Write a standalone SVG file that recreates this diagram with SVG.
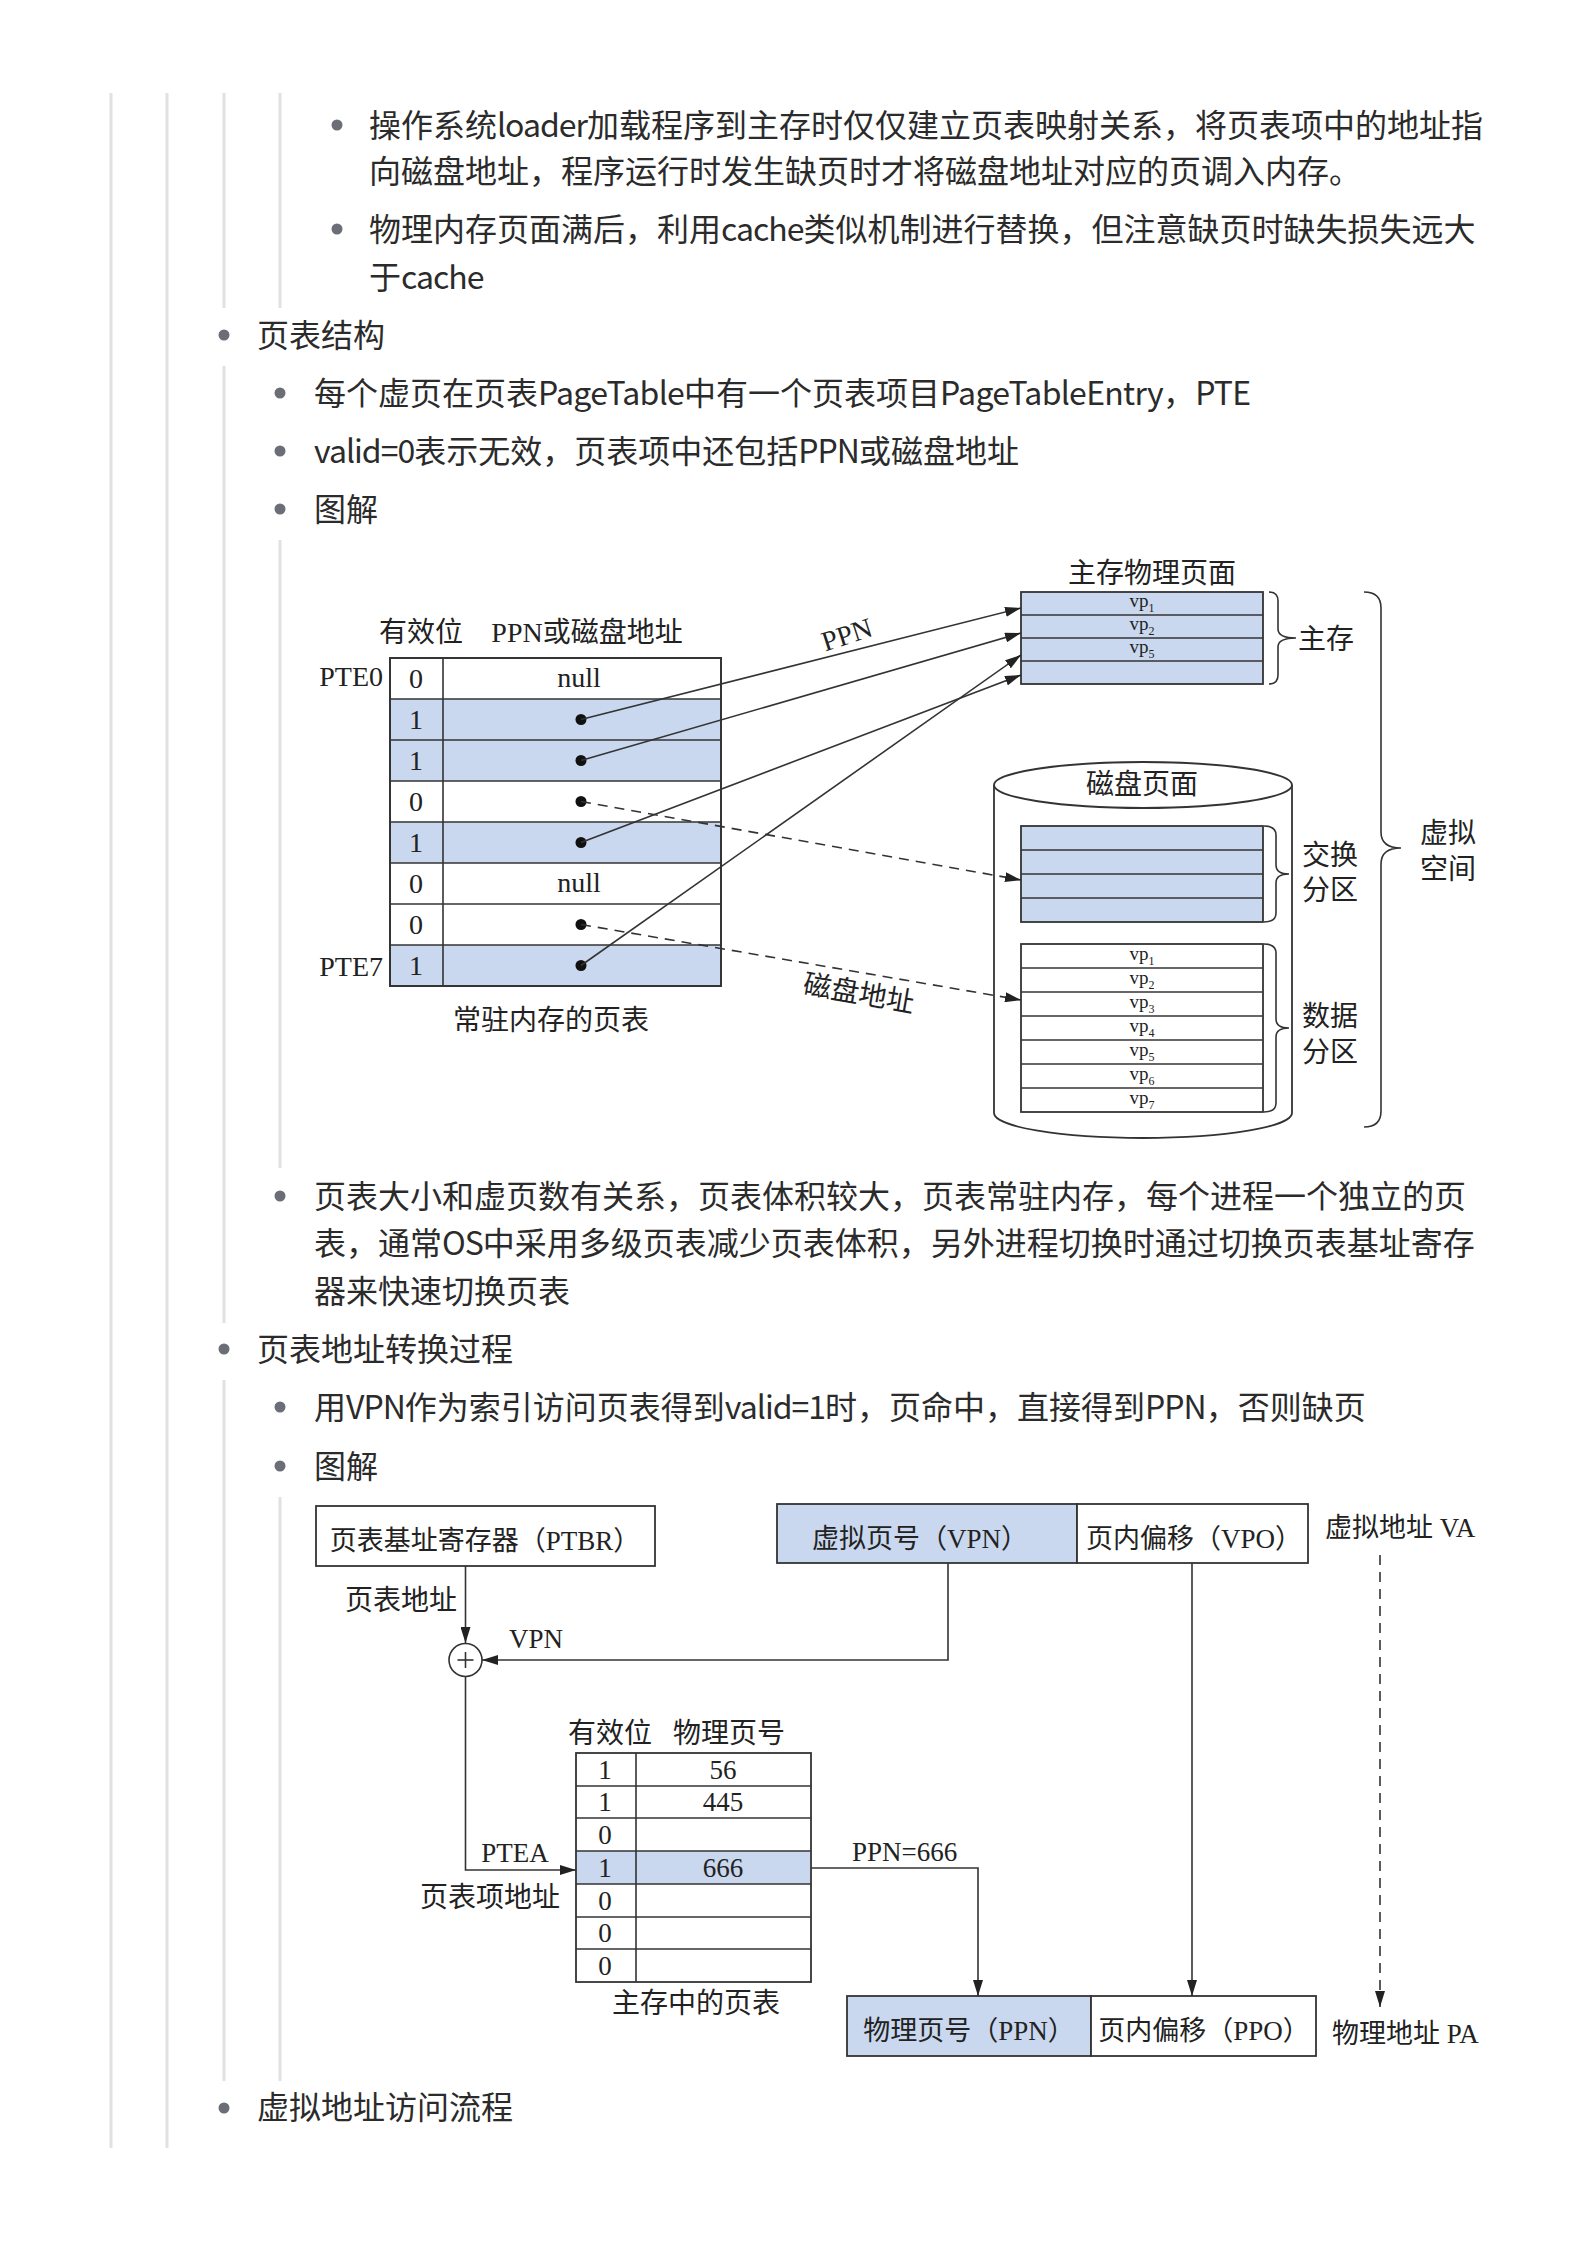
<svg xmlns="http://www.w3.org/2000/svg" width="1586" height="2245" viewBox="0 0 1586 2245">
<style>
.body{font-family:"Noto Sans CJK SC","Noto Sans",sans-serif;font-size:32px;fill:#2b2b2b}
.lt{letter-spacing:-1px}
.lt2{letter-spacing:-0.7px}
.bul{fill:#6b6e76}
.guide{stroke:#e1e1e4;stroke-width:3;fill:none}
.d{font-family:"Liberation Serif","Noto Sans CJK SC",serif;font-size:28px;fill:#222}
.dm{font-family:"Liberation Serif","Noto Sans CJK SC",serif;font-size:27px;fill:#222}
.vp{font-family:"Liberation Serif",serif;font-size:19px;fill:#222}
.box{stroke:#333;stroke-width:1.8;fill:#fff}
.blue{fill:#c9d8ee}
.ln{stroke:#333;stroke-width:1.6;fill:none}
.dash{stroke:#333;stroke-width:1.6;fill:none;stroke-dasharray:10 7}
</style>
<defs>
<marker id="ah" markerWidth="16" markerHeight="10" refX="16" refY="5" orient="auto" markerUnits="userSpaceOnUse">
<path d="M0,0 L16,5 L0,10 z" fill="#222"/>
</marker>
</defs>
<rect width="1586" height="2245" fill="#fff"/>

<g id="guides">
<line class="guide" x1="111" y1="93" x2="111" y2="2148"/>
<line class="guide" x1="167" y1="93" x2="167" y2="2148"/>
<line class="guide" x1="224" y1="93" x2="224" y2="308"/>
<line class="guide" x1="280" y1="93" x2="280" y2="308"/>
<line class="guide" x1="224" y1="366" x2="224" y2="1323"/>
<line class="guide" x1="280" y1="540" x2="280" y2="1168"/>
<line class="guide" x1="224" y1="1380" x2="224" y2="2081"/>
<line class="guide" x1="280" y1="1497" x2="280" y2="2081"/>
</g>

<g id="text-body">
<circle class="bul" cx="337" cy="125" r="5.5"/>
<text class="body" x="369" y="137">操作系统<tspan class="lt">loader</tspan>加载程序到主存时仅仅建立页表映射关系，将页表项中的地址指</text>
<text class="body" x="369" y="183">向磁盘地址，程序运行时发生缺页时才将磁盘地址对应的页调入内存。</text>
<circle class="bul" cx="337" cy="229" r="5.5"/>
<text class="body" x="369" y="241">物理内存页面满后，利用<tspan class="lt">cache</tspan>类似机制进行替换，但注意缺页时缺失损失远大</text>
<text class="body" x="369" y="289">于<tspan class="lt">cache</tspan></text>
<circle class="bul" cx="224" cy="335" r="5.5"/>
<text class="body" x="257" y="347">页表结构</text>
<circle class="bul" cx="280" cy="393" r="5.5"/>
<text class="body" x="314" y="405">每个虚页在页表<tspan class="lt2">PageTable</tspan>中有一个页表项目<tspan class="lt2">PageTableEntry</tspan>，<tspan class="lt2">PTE</tspan></text>
<circle class="bul" cx="280" cy="451" r="5.5"/>
<text class="body" x="314" y="463"><tspan class="lt">valid=0</tspan>表示无效，页表项中还包括<tspan class="lt">PPN</tspan>或磁盘地址</text>
<circle class="bul" cx="280" cy="509" r="5.5"/>
<text class="body" x="314" y="521">图解</text>
<circle class="bul" cx="280" cy="1196" r="5.5"/>
<text class="body" x="314" y="1208">页表大小和虚页数有关系，页表体积较大，页表常驻内存，每个进程一个独立的页</text>
<text class="body" x="314" y="1255">表，通常<tspan class="lt">OS</tspan>中采用多级页表减少页表体积，另外进程切换时通过切换页表基址寄存</text>
<text class="body" x="314" y="1303">器来快速切换页表</text>
<circle class="bul" cx="224" cy="1349" r="5.5"/>
<text class="body" x="257" y="1361">页表地址转换过程</text>
<circle class="bul" cx="280" cy="1407" r="5.5"/>
<text class="body" x="314" y="1419">用<tspan class="lt">VPN</tspan>作为索引访问页表得到<tspan class="lt">valid=1</tspan>时，页命中，直接得到<tspan class="lt">PPN</tspan>，否则缺页</text>
<circle class="bul" cx="280" cy="1466" r="5.5"/>
<text class="body" x="314" y="1478">图解</text>
<circle class="bul" cx="224" cy="2108" r="5.5"/>
<text class="body" x="257" y="2119">虚拟地址访问流程</text>
</g>

<!-- Diagram 1 -->
<g id="pagetable1">
<rect class="box" x="390" y="658" width="331" height="328"/>
<rect class="blue" x="391" y="699" width="329" height="41"/>
<rect class="blue" x="391" y="740" width="329" height="41"/>
<rect class="blue" x="391" y="822" width="329" height="41"/>
<rect class="blue" x="391" y="945" width="329" height="40"/>
<g class="ln">
<line x1="390" y1="699" x2="721" y2="699"/>
<line x1="390" y1="740" x2="721" y2="740"/>
<line x1="390" y1="781" x2="721" y2="781"/>
<line x1="390" y1="822" x2="721" y2="822"/>
<line x1="390" y1="863" x2="721" y2="863"/>
<line x1="390" y1="904" x2="721" y2="904"/>
<line x1="390" y1="945" x2="721" y2="945"/>
<line x1="443" y1="658" x2="443" y2="986"/>
</g>
<rect x="390" y="658" width="331" height="328" fill="none" stroke="#333" stroke-width="1.8"/>
<g class="d" text-anchor="middle">
<text x="416" y="688">0</text>
<text x="416" y="729">1</text>
<text x="416" y="770">1</text>
<text x="416" y="811">0</text>
<text x="416" y="852">1</text>
<text x="416" y="893">0</text>
<text x="416" y="934">0</text>
<text x="416" y="975">1</text>
<text x="579" y="687">null</text>
<text x="579" y="892">null</text>
<text x="421" y="642">有效位</text>
<text x="587" y="642">PPN或磁盘地址</text>
<text x="551" y="1030">常驻内存的页表</text>
</g>
<g class="d" text-anchor="end">
<text x="383" y="686">PTE0</text>
<text x="383" y="976">PTE7</text>
</g>
<g fill="#111">
<circle cx="581" cy="719.5" r="5.5"/>
<circle cx="581" cy="760.5" r="5.5"/>
<circle cx="581" cy="801.5" r="5.5"/>
<circle cx="581" cy="842.5" r="5.5"/>
<circle cx="581" cy="924.5" r="5.5"/>
<circle cx="581" cy="965.5" r="5.5"/>
</g>
</g>

<g id="mainmem">
<text class="d" x="1152" y="583" text-anchor="middle">主存物理页面</text>
<rect class="box" x="1021" y="592" width="242" height="92" style="fill:#c9d8ee"/>
<g class="ln">
<line x1="1021" y1="615" x2="1263" y2="615"/>
<line x1="1021" y1="638" x2="1263" y2="638"/>
<line x1="1021" y1="661" x2="1263" y2="661"/>
</g>
<g class="vp" text-anchor="middle">
<text x="1142" y="607">vp<tspan dy="5" font-size="12">1</tspan></text>
<text x="1142" y="630">vp<tspan dy="5" font-size="12">2</tspan></text>
<text x="1142" y="653">vp<tspan dy="5" font-size="12">5</tspan></text>
</g>
<path class="ln" d="M1269,592 Q1278,592 1278,601 L1278,629 Q1278,638 1296,638 Q1278,638 1278,647 L1278,675 Q1278,684 1269,684"/>
<text class="d" x="1298" y="649">主存</text>
</g>

<g id="disk">
<path class="box" d="M994,785 L994,1113 A149,25 0 0 0 1292,1113 L1292,785"/>
<ellipse class="box" cx="1143" cy="785" rx="149" ry="23"/>
<text class="d" x="1142" y="794" text-anchor="middle">磁盘页面</text>
<rect class="box" x="1021" y="826" width="242" height="96" style="fill:#c9d8ee"/>
<g class="ln">
<line x1="1021" y1="850" x2="1263" y2="850"/>
<line x1="1021" y1="874" x2="1263" y2="874"/>
<line x1="1021" y1="898" x2="1263" y2="898"/>
</g>
<rect class="box" x="1021" y="944" width="242" height="168"/>
<g class="ln">
<line x1="1021" y1="968" x2="1263" y2="968"/>
<line x1="1021" y1="992" x2="1263" y2="992"/>
<line x1="1021" y1="1016" x2="1263" y2="1016"/>
<line x1="1021" y1="1040" x2="1263" y2="1040"/>
<line x1="1021" y1="1064" x2="1263" y2="1064"/>
<line x1="1021" y1="1088" x2="1263" y2="1088"/>
</g>
<g class="vp" text-anchor="middle">
<text x="1142" y="960">vp<tspan dy="5" font-size="12">1</tspan></text>
<text x="1142" y="984">vp<tspan dy="5" font-size="12">2</tspan></text>
<text x="1142" y="1008">vp<tspan dy="5" font-size="12">3</tspan></text>
<text x="1142" y="1032">vp<tspan dy="5" font-size="12">4</tspan></text>
<text x="1142" y="1056">vp<tspan dy="5" font-size="12">5</tspan></text>
<text x="1142" y="1080">vp<tspan dy="5" font-size="12">6</tspan></text>
<text x="1142" y="1104">vp<tspan dy="5" font-size="12">7</tspan></text>
</g>
<path class="ln" d="M1264,826 Q1276,826 1276,835 L1276,865 Q1276,874 1289,874 Q1276,874 1276,883 L1276,913 Q1276,922 1264,922"/>
<text class="d" x="1302" y="865">交换</text>
<text class="d" x="1302" y="900">分区</text>
<path class="ln" d="M1264,944 Q1276,944 1276,953 L1276,1019 Q1276,1028 1289,1028 Q1276,1028 1276,1037 L1276,1103 Q1276,1112 1264,1112"/>
<text class="d" x="1302" y="1026">数据</text>
<text class="d" x="1302" y="1062">分区</text>
</g>

<g id="vspace">
<path class="ln" d="M1364,592 Q1381,592 1381,608 L1381,832 Q1381,848 1401,848 Q1381,848 1381,864 L1381,1111 Q1381,1127 1364,1127"/>
<text class="d" x="1420" y="843">虚拟</text>
<text class="d" x="1420" y="879">空间</text>
</g>

<g id="connectors1">
<line class="ln" x1="581" y1="719.5" x2="1021" y2="608" marker-end="url(#ah)"/>
<line class="ln" x1="581" y1="760.5" x2="1021" y2="633" marker-end="url(#ah)"/>
<line class="ln" x1="581" y1="842.5" x2="1021" y2="675" marker-end="url(#ah)"/>
<line class="ln" x1="581" y1="965.5" x2="1021" y2="655" marker-end="url(#ah)"/>
<line class="dash" x1="581" y1="801.5" x2="1021" y2="880" marker-end="url(#ah)"/>
<line class="dash" x1="581" y1="924.5" x2="1021" y2="1000" marker-end="url(#ah)"/>
<text class="d" font-size="25" x="847" y="644" text-anchor="middle" transform="rotate(-18 847 635)">PPN</text>
<text class="d" x="859" y="1003" text-anchor="middle" transform="rotate(10 859 993)">磁盘地址</text>
</g>

<!-- Diagram 2 -->
<g id="ptbr">
<rect class="box" x="316" y="1506" width="339" height="60"/>
<text class="dm" x="485" y="1550" text-anchor="middle">页表基址寄存器（PTBR）</text>
</g>
<g id="va">
<rect class="box" x="777" y="1504" width="300" height="59" style="fill:#c9d8ee"/>
<rect class="box" x="1077" y="1504" width="231" height="59"/>
<text class="dm" x="920" y="1548" text-anchor="middle">虚拟页号（VPN）</text>
<text class="dm" x="1194" y="1548" text-anchor="middle">页内偏移（VPO）</text>
<text class="dm" x="1325" y="1537">虚拟地址 VA</text>
</g>
<g id="adder">
<circle cx="465.5" cy="1660" r="16.5" fill="#fff" stroke="#333" stroke-width="1.6"/>
<line class="ln" x1="457.5" y1="1660" x2="473.5" y2="1660"/>
<line class="ln" x1="465.5" y1="1652" x2="465.5" y2="1668"/>
</g>
<g id="pagetable2">
<text class="d" x="610" y="1743" text-anchor="middle">有效位</text>
<text class="d" x="729" y="1743" text-anchor="middle">物理页号</text>
<rect class="box" x="576" y="1753" width="235" height="229"/>
<rect class="blue" x="577" y="1851" width="233" height="33"/>
<g class="ln">
<line x1="576" y1="1786" x2="811" y2="1786"/>
<line x1="576" y1="1818" x2="811" y2="1818"/>
<line x1="576" y1="1851" x2="811" y2="1851"/>
<line x1="576" y1="1884" x2="811" y2="1884"/>
<line x1="576" y1="1917" x2="811" y2="1917"/>
<line x1="576" y1="1949" x2="811" y2="1949"/>
<line x1="636" y1="1753" x2="636" y2="1982"/>
</g>
<g class="dm" text-anchor="middle">
<text x="605" y="1779">1</text>
<text x="605" y="1811">1</text>
<text x="605" y="1844">0</text>
<text x="605" y="1877">1</text>
<text x="605" y="1910">0</text>
<text x="605" y="1942">0</text>
<text x="605" y="1975">0</text>
<text x="723" y="1779">56</text>
<text x="723" y="1811">445</text>
<text x="723" y="1877">666</text>
</g>
<text class="d" x="696" y="2013" text-anchor="middle">主存中的页表</text>
</g>
<g id="pa">
<rect class="box" x="847" y="1996" width="244" height="60" style="fill:#c9d8ee"/>
<rect class="box" x="1091" y="1996" width="225" height="60"/>
<text class="dm" x="969" y="2040" text-anchor="middle">物理页号（PPN）</text>
<text class="dm" x="1204" y="2040" text-anchor="middle">页内偏移（PPO）</text>
<text class="dm" x="1332" y="2043">物理地址 PA</text>
</g>
<g id="connectors2">
<line class="ln" x1="465.5" y1="1566" x2="465.5" y2="1643" marker-end="url(#ah)"/>
<text class="d" x="401" y="1610" text-anchor="middle">页表地址</text>
<polyline class="ln" points="948,1563 948,1660 482,1660" marker-end="url(#ah)"/>
<text class="dm" x="509" y="1648">VPN</text>
<polyline class="ln" points="465.5,1676.5 465.5,1870 576,1870" marker-end="url(#ah)"/>
<text class="dm" x="515" y="1862" text-anchor="middle">PTEA</text>
<text class="d" x="490" y="1907" text-anchor="middle">页表项地址</text>
<polyline class="ln" points="811,1868 978,1868 978,1996" marker-end="url(#ah)"/>
<text class="dm" x="852" y="1861">PPN=666</text>
<line class="ln" x1="1192" y1="1563" x2="1192" y2="1996" marker-end="url(#ah)"/>
<line class="dash" x1="1380" y1="1555" x2="1380" y2="2007" marker-end="url(#ah)"/>
</g>
</svg>
